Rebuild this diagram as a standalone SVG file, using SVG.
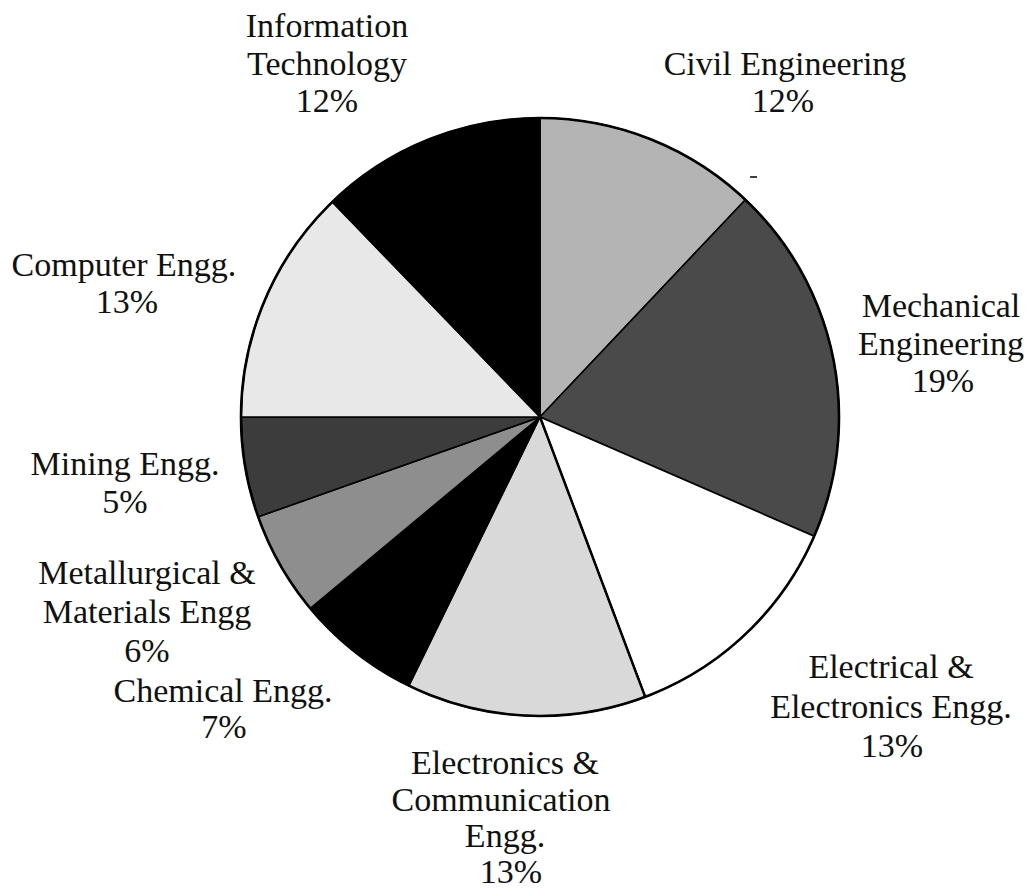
<svg xmlns="http://www.w3.org/2000/svg" width="1032" height="892" viewBox="0 0 1032 892">
<style>
.lbl{font-family:"Liberation Serif","Times New Roman",serif;font-size:34px;fill:#111;text-anchor:middle}
.sl{stroke:#000;stroke-width:1.6;stroke-linejoin:round}
</style>
<rect width="1032" height="892" fill="#fff"/>
<g id="slices">
<g id="civil"><path class="sl" fill="#b4b4b4" d="M540,417 L540,118 A299,299 0 0 1 745.4,199.7 Z"/></g>
<g id="mechanical"><path class="sl" fill="#4a4a4a" d="M540,417 L745.4,199.7 A299,299 0 0 1 814.2,536.2 Z"/></g>
<g id="electrical"><path class="sl" fill="#ffffff" d="M540,417 L814.2,536.2 A299,299 0 0 1 645.2,696.9 Z"/></g>
<g id="electronics"><path class="sl" fill="#d9d9d9" d="M540,417 L645.2,696.9 A299,299 0 0 1 408.9,685.7 Z"/></g>
<g id="chemical"><path class="sl" fill="#000000" d="M540,417 L408.9,685.7 A299,299 0 0 1 310.3,608.4 Z"/></g>
<g id="metallurgical"><path class="sl" fill="#8e8e8e" d="M540,417 L310.3,608.4 A299,299 0 0 1 258.2,516.8 Z"/></g>
<g id="mining"><path class="sl" fill="#3c3c3c" d="M540,417 L258.2,516.8 A299,299 0 0 1 241,417 Z"/></g>
<g id="computer"><path class="sl" fill="#e8e8e8" d="M540,417 L241,417 A299,299 0 0 1 332.3,201.9 Z"/></g>
<g id="it"><path class="sl" fill="#000000" d="M540,417 L332.3,201.9 A299,299 0 0 1 540,118 Z"/></g>
</g>
<g id="connectors">
<line x1="645.2" y1="696.9" x2="540" y2="417" stroke="#000" stroke-width="2.5"/>
<circle cx="540" cy="417" r="299" fill="none" stroke="#000" stroke-width="2.6"/>
<line x1="750" y1="177" x2="757" y2="177" stroke="#000" stroke-width="1.5"/>
</g>
<g id="labels">
<g id="lbl-it"><text class="lbl" x="327" y="37">Information</text><text class="lbl" x="327" y="75">Technology</text><text class="lbl" x="327" y="112">12%</text></g>
<g id="lbl-civil"><text class="lbl" x="785" y="75">Civil Engineering</text><text class="lbl" x="783" y="112">12%</text></g>
<g id="lbl-mech"><text class="lbl" x="941" y="317">Mechanical</text><text class="lbl" x="941" y="355">Engineering</text><text class="lbl" x="943" y="392">19%</text></g>
<g id="lbl-elec"><text class="lbl" x="891" y="678">Electrical &amp;</text><text class="lbl" x="891" y="718">Electronics Engg.</text><text class="lbl" x="892" y="757">13%</text></g>
<g id="lbl-ec"><text class="lbl" x="505" y="774">Electronics &amp;</text><text class="lbl" x="501" y="811">Communication</text><text class="lbl" x="505" y="847">Engg.</text><text class="lbl" x="511" y="883">13%</text></g>
<g id="lbl-chem"><text class="lbl" x="223" y="702">Chemical Engg.</text><text class="lbl" x="224" y="738">7%</text></g>
<g id="lbl-metal"><text class="lbl" x="147" y="584">Metallurgical &amp;</text><text class="lbl" x="147" y="623">Materials Engg</text><text class="lbl" x="147" y="662">6%</text></g>
<g id="lbl-mining"><text class="lbl" x="125" y="475">Mining Engg.</text><text class="lbl" x="125" y="513">5%</text></g>
<g id="lbl-comp"><text class="lbl" x="124" y="276">Computer Engg.</text><text class="lbl" x="127" y="313">13%</text></g>
</g>
</svg>
